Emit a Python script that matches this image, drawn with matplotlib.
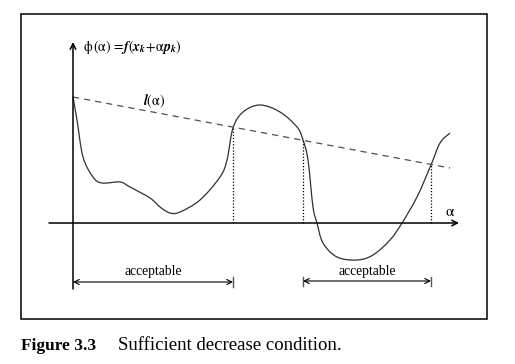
#Sufficient decrease condition sketch

#--------------------- Importing the Libraries-----------------------------
import matplotlib
matplotlib.use('Agg')
import matplotlib.pyplot as plt
from matplotlib.path import Path
from matplotlib.patches import PathPatch, Rectangle
import numpy as np

alpha_pts = [0.00, 0.04, 0.10, 0.20, 0.29, 0.47, 0.57, 0.77, 0.87, 0.97, 1.07, 1.27,
             1.47, 1.54, 1.60, 1.70, 1.87, 2.07, 2.24, 2.30, 2.35, 2.40, 2.44, 2.50,
             2.64, 2.84, 3.00, 3.17, 3.29, 3.44, 3.58, 3.67, 3.77]
phi_pts = [1.26, 1.03, 0.66, 0.46, 0.40, 0.41, 0.36, 0.25, 0.16, 0.10, 0.11, 0.23,
           0.46, 0.63, 0.95, 1.11, 1.18, 1.11, 0.96, 0.83, 0.63, 0.16, 0.00, -0.20,
           -0.34, -0.37, -0.32, -0.17, 0.00, 0.26, 0.58, 0.80, 0.90]

# the line l(alpha)
l_alpha = [0.0, 3.77]
l_vals = [1.26, 0.55]

# where phi crosses l(alpha)
cross_alpha = [1.60, 2.30, 3.58]

# acceptable intervals
accept_lo = [0.0, 2.30]
accept_hi = [1.60, 3.58]


def l_of(a):
    return l_vals[0] + (l_vals[1] - l_vals[0]) * (a - l_alpha[0]) / (l_alpha[1] - l_alpha[0])


# smooth curve through the points (catmull-rom -> bezier)
def smooth_path(xs, ys):
    pts = np.column_stack([xs, ys])
    verts = [pts[0]]
    codes = [Path.MOVETO]
    n = len(pts)
    for i in range(n - 1):
        p0 = pts[max(i - 1, 0)]
        p1 = pts[i]
        p2 = pts[i + 1]
        p3 = pts[min(i + 2, n - 1)]
        verts += [p1 + (p2 - p0) / 6, p2 - (p3 - p1) / 6, p2]
        codes += [Path.CURVE4] * 3
    return Path(verts, codes)


plt.rcParams['mathtext.fontset'] = 'stix'
fig = plt.figure(figsize=(5.15, 3.64), dpi=100)
ax = fig.add_axes([0, 0, 1, 1])
ax.set_xlim(-0.73, 4.42)
ax.set_ylim(-1.41, 2.23)
ax.axis('off')

# outer frame
ax.add_patch(Rectangle((-0.52, -0.96), 4.66, 3.05, fill=False, lw=1.1, ec='black'))

# axes with arrows
ax.annotate('', xy=(3.86, 0), xytext=(-0.24, 0),
            arrowprops=dict(arrowstyle='->', lw=1.1, color='black', shrinkA=0, shrinkB=0))
ax.annotate('', xy=(0, 1.81), xytext=(0, -0.66),
            arrowprops=dict(arrowstyle='->', lw=1.1, color='black', shrinkA=0, shrinkB=0))

# phi curve
ax.add_patch(PathPatch(smooth_path(alpha_pts, phi_pts), fill=False, lw=0.9, ec='#303030'))

# dashed l(alpha)
ax.plot(l_alpha, l_vals, color='#505050', lw=0.9, linestyle=(0, (5, 4)))

# dotted drops
for a in cross_alpha:
    ax.plot([a, a], [0, l_of(a)], color='black', lw=0.9, linestyle=(0, (1, 1.5)))

# acceptable arrows
arr_y = [-0.59, -0.58]
for i in range(2):
    ax.annotate('', xy=(accept_hi[i], arr_y[i]), xytext=(accept_lo[i], arr_y[i]),
                arrowprops=dict(arrowstyle='<->', lw=0.8, color='black',
                                shrinkA=0, shrinkB=0, mutation_scale=9))
    ax.text((accept_lo[i] + accept_hi[i]) / 2, arr_y[i] + 0.10, 'acceptable',
            family='Liberation Serif', fontsize=9.8, ha='center', va='center')
# end ticks
ax.plot([accept_hi[0]] * 2, [-0.54, -0.64], color='#555555', lw=1.0)
ax.plot([accept_lo[1]] * 2, [-0.54, -0.63], color='#555555', lw=1.0)
ax.plot([accept_hi[1]] * 2, [-0.54, -0.63], color='#555555', lw=1.0)

# labels
ax.text(0.10, 1.76,
        r'$\mathrm{\phi}\,(\mathrm{\alpha})\,=\!\mathbfit{f}(\mathbfit{x}_\mathbfit{k}\!+\!\mathrm{\alpha}\mathbfit{p}_\mathbfit{k})$',
        fontsize=10, ha='left', va='center')
ax.text(0.81, 1.22, r'$\mathbfit{l}(\mathrm{\alpha})$', fontsize=10, ha='center', va='center')
ax.text(3.77, 0.12, r'$\mathrm{\alpha}$', fontsize=11, ha='center', va='center')

# caption
ax.text(-0.52, -1.23, 'Figure 3.3', family='Liberation Serif', fontweight='bold',
        fontsize=12.5, ha='left', va='center')
ax.text(0.45, -1.23, 'Sufficient decrease condition.', family='Liberation Serif',
        fontsize=13.5, ha='left', va='center')

plt.savefig('out.png', dpi=100)
